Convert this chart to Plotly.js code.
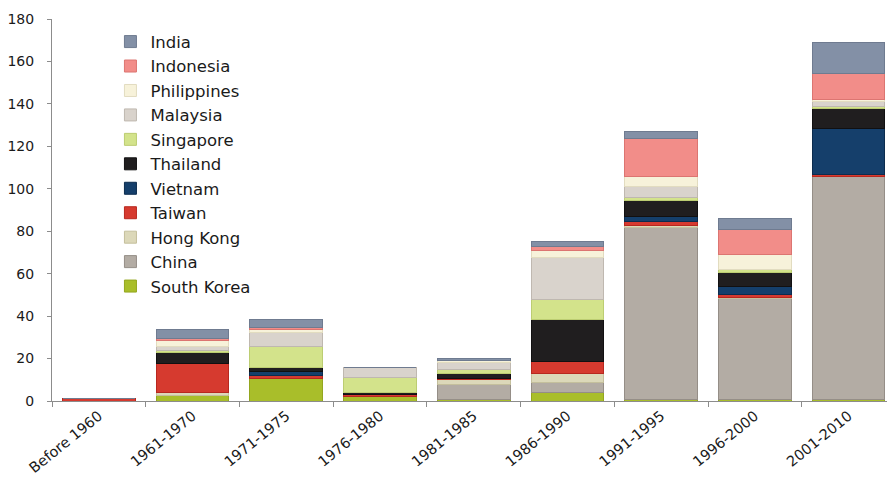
<!DOCTYPE html>
<html>
<head>
<meta charset="utf-8">
<script src="https://cdn.plot.ly/plotly-3.0.1.min.js"></script>
<style>
  html, body { margin: 0; padding: 0; background: #ffffff; }
  #chart { width: 887px; height: 480px; }
</style>
</head>
<body>
<div id="chart"></div>
<script>
// Periods on the x axis
const periods = ['Before 1960', '1961-1970', '1971-1975', '1976-1980', '1981-1985',
                 '1986-1990', '1991-1995', '1996-2000', '2001-2010'];

// Values per country, one entry per period (stacked bottom to top)
const southKorea  = [0,   2.8, 10.8, 1.9, 0.9, 3.9,  0.8,  0.6,   0.7];
const china       = [0,   0,    0,   0,   7.1, 5.0, 81.0, 47.5, 104.9];
const hongKong    = [0,   1.1,  0,   0,   1.9, 3.9,  1.0,  0.6,   0];
const taiwan      = [1.2, 13.8, 1.3, 1.1, 0.9, 6.0,  1.9,  1.7,   1.1];
const vietnam     = [0,   0,    1.6, 0,   0,   0,    2.2,  3.5,  21.5];
const thailand    = [0,   5.0,  2.2, 0.9, 2.2, 19.8, 7.7,  6.8,   9.4];
const singapore   = [0,   0.9, 10.0, 7.1, 1.9, 9.3,  1.4,  1.1,   1.3];
const malaysia    = [0,   2.2,  6.3, 4.9, 3.1, 19.8, 5.0,  0,     2.0];
const philippines = [0,   2.7,  1.3, 0,   0.9, 3.0,  4.7,  7.1,   1.4];
const indonesia   = [0,   1.0,  1.1, 0,   0,   1.9, 17.9, 11.8,  12.1];
const india       = [0,   4.4,  3.6, 0,   1.3, 2.4,  3.3,  5.2,  14.3];

// Series names, in stacking order
const seriesNames = ['South Korea', 'China', 'Hong Kong', 'Taiwan', 'Vietnam', 'Thailand',
                     'Singapore', 'Malaysia', 'Philippines', 'Indonesia', 'India'];
const seriesValues = [southKorea, china, hongKong, taiwan, vietnam, thailand,
                      singapore, malaysia, philippines, indonesia, india];

// Fill and edge colours for each series
const fills = ['#a9be2a', '#b3aca4', '#dcd8b9', '#d63a2f', '#153f6b', '#201e1f',
               '#d3e38b', '#d9d3cc', '#f7f2da', '#f28d89', '#8390a6'];
const edges = ['#93a61f', '#958e87', '#c4bf9c', '#b8281f', '#0c2c4e', '#111011',
               '#bccd72', '#bfb8b0', '#e2dcc0', '#dc7571', '#6f7b90'];

const traces = seriesNames.map((name, i) => ({
  type: 'bar',
  name: name,
  x: periods,
  y: seriesValues[i],
  marker: { color: fills[i], line: { color: edges[i], width: 1 } },
  hoverinfo: 'x+y+name'
}));

const layout = {
  width: 887,
  height: 480,
  barmode: 'stack',
  bargap: 0.225,
  paper_bgcolor: '#ffffff',
  plot_bgcolor: '#ffffff',
  font: { family: 'DejaVu Sans, sans-serif', size: 14, color: '#1a1a1a' },
  margin: { l: 52, r: 0, t: 19, b: 79 },
  showlegend: true,
  legend: {
    x: 0.07, xanchor: 'left',
    y: 0.986, yanchor: 'top',
    traceorder: 'reversed',
    font: { family: 'DejaVu Sans, sans-serif', size: 16.5, color: '#1a1a1a' },
    bgcolor: 'rgba(0,0,0,0)',
    itemclick: false
  },
  xaxis: {
    type: 'category',
    range: [-0.5, 8.41],
    tickangle: -39,
    ticks: 'outside',
    tickson: 'boundaries',
    ticklen: 5,
    tickcolor: '#8c8c8c',
    showline: true,
    linecolor: '#8c8c8c',
    linewidth: 1,
    showgrid: false,
    zeroline: false,
    tickfont: { size: 14.5 }
  },
  yaxis: {
    range: [0, 180],
    dtick: 20,
    ticks: 'outside',
    ticklen: 4,
    tickcolor: '#8c8c8c',
    ticklabelstandoff: 10,
    showline: true,
    linecolor: '#8c8c8c',
    linewidth: 1,
    showgrid: false,
    zeroline: false,
    tickfont: { size: 14 }
  }
};

Plotly.newPlot('chart', traces, layout, { displayModeBar: false, staticPlot: true });
</script>
</body>
</html>
